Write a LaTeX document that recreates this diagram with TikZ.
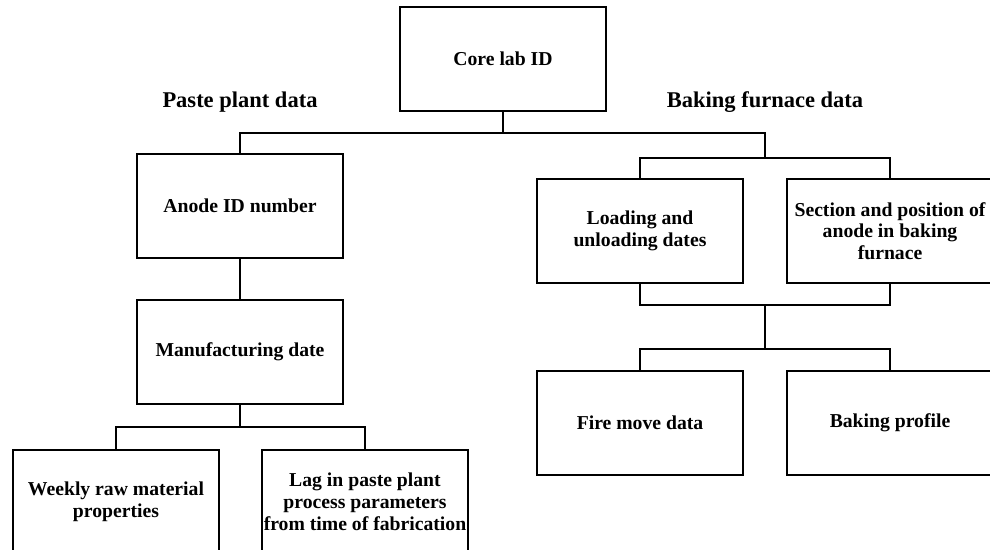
\documentclass[tikz,border=0pt]{standalone}
\usepackage{fontspec}
\setmainfont{Liberation Serif}
\usetikzlibrary{positioning}
\tikzset{
  databox/.style={draw,line width=1.9pt,minimum width=5.15cm,minimum height=2.6cm,
    align=center,inner sep=1pt,font=\fontsize{14}{15.5}\selectfont\bfseries},
  grouplabel/.style={font=\fontsize{16}{18}\selectfont\bfseries},
  link/.style={line width=1.9pt}
}
\begin{document}
\begin{tikzpicture}[x=0.025cm,y=-0.025cm]
\useasboundingbox (0,0) rectangle (990,550);
\clip (0,0) rectangle (990,550);
\node[databox] (core) at (503,59) {Core lab ID};
\node[grouplabel] (paste) at (240,102) {Paste plant data};
\node[grouplabel] (baking) at (765,102) {Baking furnace data};
\node[databox] (anode) at (240,206) {Anode ID number};
\node[databox] (manuf) at (240,352) {Manufacturing date};
\node[databox] (weekly) at (116,502) {Weekly raw material\\properties};
\node[databox] (lag) at (365,502) {Lag in paste plant\\process parameters\\from time of fabrication};
\node[databox] (loading) at (640,231) {Loading and\\unloading dates};
\node[databox] (section) at (890,231) {Section and position of\\anode in baking\\furnace};
\node[databox] (fire) at (640,423) {Fire move data};
\node[databox] (profile) at (890,423) {Baking profile};
\coordinate (trunk) at (503,133);
\coordinate (fork1) at (765,158);
\coordinate (join) at (765,305);
\coordinate (fork2) at (765,349);
\coordinate (fork3) at (240,427);
\draw[link] (core) -- (trunk);
\draw[link] (anode) |- (trunk) -| (fork1);
\draw[link] (loading) |- (fork1) -| (section);
\draw[link] (loading) |- (join) -| (section);
\draw[link] (join) -- (fork2);
\draw[link] (fire) |- (fork2) -| (profile);
\draw[link] (anode) -- (manuf);
\draw[link] (manuf) -- (fork3);
\draw[link] (weekly) |- (fork3) -| (lag);
\end{tikzpicture}
\end{document}
